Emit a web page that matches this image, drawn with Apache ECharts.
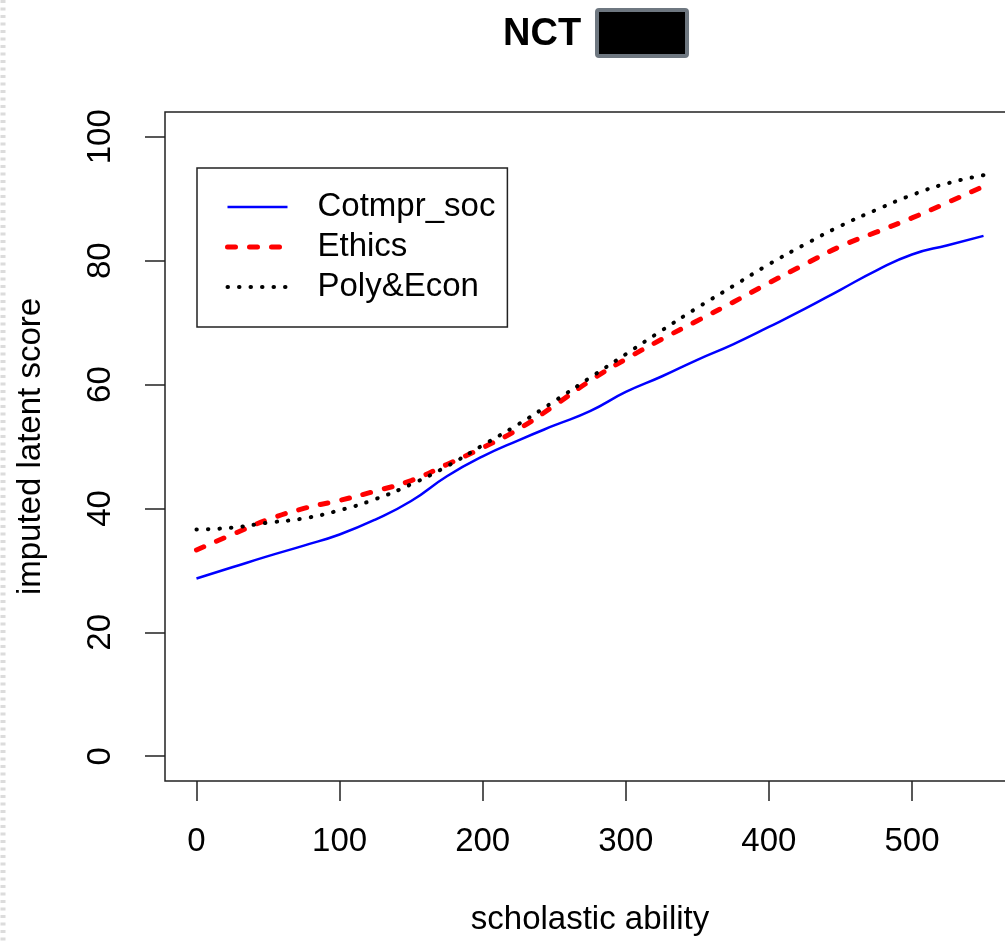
<!DOCTYPE html>
<html>
<head>
<meta charset="utf-8">
<title>NCT</title>
<script src="https://cdn.jsdelivr.net/npm/echarts@6/dist/echarts.min.js"></script>
<style>
  html, body { margin: 0; padding: 0; overflow: hidden; background: #fff; }
  #chart { width: 1020px; height: 941px; }
</style>
</head>
<body>
<div id="chart"></div>
<script>
// scholastic ability grid
var ability = [0, 25, 50, 75, 100, 125, 150, 175, 200, 225, 250, 275,
               300, 325, 350, 375, 400, 425, 450, 475, 500, 525, 550];
// imputed latent score per subject
var cotmprSoc = [28.7, 30.5, 32.3, 34.0, 35.8, 38.2, 41.2, 45.2, 48.4, 51.0, 53.4, 55.7,
                 58.8, 61.3, 64.0, 66.5, 69.3, 72.2, 75.3, 78.4, 81.0, 82.5, 84.0];
var ethics    = [33.3, 35.8, 38.2, 40.0, 41.3, 42.8, 44.5, 47.1, 49.8, 52.8, 56.6, 60.6,
                 64.1, 67.3, 70.3, 73.3, 76.4, 79.4, 82.3, 84.6, 86.9, 89.4, 92.0];
var polyEcon  = [36.6, 36.9, 37.7, 38.4, 39.7, 41.5, 43.9, 46.8, 50.2, 53.6, 57.3, 61.1,
                 64.9, 68.7, 72.4, 75.9, 79.4, 82.6, 85.6, 88.2, 90.6, 92.5, 93.8];

var xTicks = [0, 100, 200, 300, 400, 500];
var yTicks = [0, 20, 40, 60, 80, 100];

var FONT = '"Liberation Sans", Arial, sans-serif';

function pairs(ys) {
  return ability.map(function (x, i) { return [x, ys[i]]; });
}

var chart = echarts.init(document.getElementById('chart'));

chart.setOption({
  animation: false,
  title: {
    text: 'NCT',
    left: 503,
    top: 16,
    padding: 0,
    textStyle: { fontFamily: FONT, fontSize: 38, fontWeight: 'bold', color: '#000' }
  },
  graphic: [
    // redaction block next to the title
    { type: 'rect', shape: { x: 597, y: 10, width: 90, height: 46, r: 2 },
      style: { fill: '#000', stroke: '#6e7780', lineWidth: 4 } },
    // dashed strip on the left edge of the screenshot
    { type: 'line', shape: { x1: 3, y1: 0, x2: 3, y2: 941 },
      style: { stroke: '#dcdcdc', lineWidth: 5, lineDash: [3, 4.5] } }
  ],
  legend: {
    orient: 'vertical',
    left: 197,
    top: 168,
    padding: [21, 12, 22, 28],
    itemWidth: 60,
    itemHeight: 20,
    itemGap: 4,
    borderColor: '#222',
    borderWidth: 1.5,
    selectedMode: false,
    itemStyle: { opacity: 0 },
    lineStyle: { width: 'inherit' },
    textStyle: { fontFamily: FONT, fontSize: 33, color: '#000', lineHeight: 36, padding: [0, 0, 0, 25] },
    data: ['Cotmpr_soc', 'Ethics', 'Poly&Econ']
  },
  grid: {
    left: 165,
    top: 112,
    right: 5,
    bottom: 157,
    show: true,
    borderColor: '#222',
    borderWidth: 1.5,
    containLabel: false
  },
  xAxis: {
    type: 'value',
    min: -22,
    max: 572,
    name: 'scholastic ability',
    nameLocation: 'middle',
    nameGap: 122,
    nameTextStyle: { fontFamily: FONT, fontSize: 33, color: '#000' },
    axisLine: { show: false, onZero: false },
    splitLine: { show: false },
    axisTick: { show: true, customValues: xTicks, length: 20, lineStyle: { color: '#222', width: 1.5 } },
    axisLabel: { customValues: xTicks, margin: 44, fontFamily: FONT, fontSize: 33, color: '#000' }
  },
  yAxis: {
    type: 'value',
    min: -4,
    max: 104,
    name: 'imputed latent score',
    nameLocation: 'middle',
    nameGap: 118,
    nameTextStyle: { fontFamily: FONT, fontSize: 33, color: '#000' },
    axisLine: { show: false, onZero: false },
    splitLine: { show: false },
    axisTick: { show: true, customValues: yTicks, length: 20, lineStyle: { color: '#222', width: 1.5 } },
    axisLabel: { customValues: yTicks, rotate: 90, margin: 48, fontFamily: FONT, fontSize: 33, color: '#000' }
  },
  series: [
    {
      name: 'Cotmpr_soc',
      type: 'line',
      smooth: true,
      symbol: 'none',
      data: pairs(cotmprSoc),
      lineStyle: { color: '#0000ff', width: 2.5 },
      itemStyle: { color: '#0000ff' },
      z: 3
    },
    {
      name: 'Ethics',
      type: 'line',
      smooth: true,
      symbol: 'none',
      data: pairs(ethics),
      lineStyle: { color: '#ff0000', width: 5, type: [8, 14], cap: 'round' },
      itemStyle: { color: '#ff0000' },
      z: 4
    },
    {
      name: 'Poly&Econ',
      type: 'line',
      smooth: true,
      symbol: 'none',
      data: pairs(polyEcon),
      lineStyle: { color: '#000', width: 4, type: [0.5, 11], cap: 'round' },
      itemStyle: { color: '#000' },
      z: 5
    }
  ]
});
</script>
</body>
</html>
